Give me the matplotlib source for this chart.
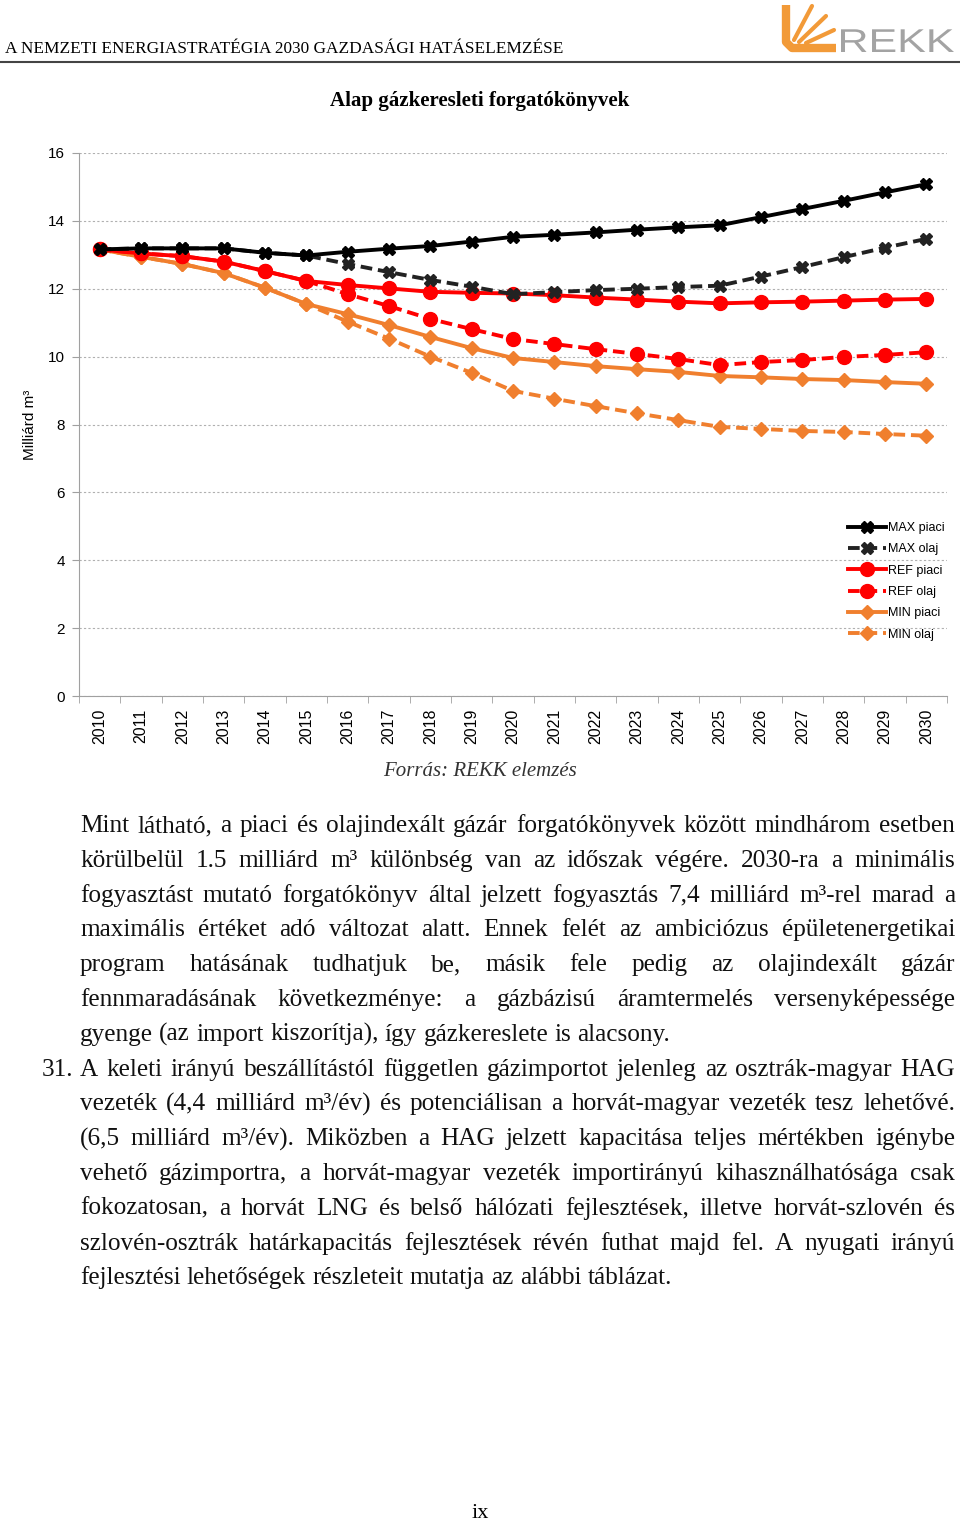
import matplotlib
matplotlib.use("Agg")
import matplotlib.pyplot as plt
from matplotlib.lines import Line2D
from matplotlib.textpath import TextPath
from matplotlib.patches import PathPatch
from matplotlib.font_manager import FontProperties
from matplotlib.transforms import Affine2D
import numpy as np

# adatok (Milliárd m3)
years = list(range(2010, 2031))
max_piaci = [13.16, 13.19, 13.19, 13.19, 13.06, 12.98, 13.09, 13.18, 13.26, 13.39, 13.53,
             13.59, 13.66, 13.74, 13.81, 13.87, 14.11, 14.35, 14.59, 14.84, 15.08]
max_olaj = [13.16, 13.19, 13.19, 13.19, 13.06, 12.98, 12.73, 12.49, 12.26, 12.06, 11.84,
            11.90, 11.96, 12.00, 12.05, 12.09, 12.36, 12.64, 12.93, 13.21, 13.47]
ref_piaci = [13.16, 13.04, 12.96, 12.80, 12.52, 12.23, 12.11, 12.01, 11.91, 11.88, 11.86,
             11.81, 11.74, 11.68, 11.62, 11.57, 11.60, 11.62, 11.65, 11.68, 11.70]
ref_olaj = [13.16, 13.04, 12.96, 12.80, 12.52, 12.23, 11.84, 11.49, 11.11, 10.81, 10.52,
            10.37, 10.22, 10.08, 9.93, 9.75, 9.84, 9.90, 9.99, 10.05, 10.13]
min_piaci = [13.16, 12.94, 12.73, 12.46, 12.03, 11.55, 11.25, 10.93, 10.58, 10.25, 9.96,
             9.84, 9.72, 9.63, 9.55, 9.43, 9.39, 9.34, 9.31, 9.25, 9.20]
min_olaj = [13.16, 12.94, 12.73, 12.46, 12.03, 11.55, 11.03, 10.53, 10.00, 9.52, 8.99,
            8.76, 8.54, 8.33, 8.13, 7.93, 7.87, 7.81, 7.78, 7.72, 7.67]
labels = ["MAX piaci", "MAX olaj", "REF piaci", "REF olaj", "MIN piaci", "MIN olaj"]

W, H = 960, 1521
def fx(x): return x / W
def fy(y): return 1 - y / H

fig = plt.figure(figsize=(9.6, 15.21), dpi=100)
SANS = "Liberation Sans"
SERIF = "Liberation Serif"

# fejléc
fig.text(fx(5), fy(49), "A NEMZETI ENERGIASTRATÉGIA 2030 GAZDASÁGI HATÁSELEMZÉSE",
         family=SERIF, size=12.4, va="center", ha="left")
fig.add_artist(Line2D([0, 1], [fy(62), fy(62)], color="#444444", lw=1.5))

# logó
orange = "#f29a38"
fig.add_artist(Line2D([fx(786), fx(786), fx(792), fx(836)], [fy(5), fy(42), fy(48), fy(48)],
                      color=orange, lw=6, solid_capstyle="butt", solid_joinstyle="round"))
for (xa, ya, xb, yb) in [(794, 40, 812, 6), (799, 42, 826, 16), (806, 43, 834, 30)]:
    fig.add_artist(Line2D([fx(xa), fx(xb)], [fy(ya), fy(yb)], color=orange, lw=3,
                          solid_capstyle="round"))
tp = TextPath((0, 0), "REKK", size=33, prop=FontProperties(family=SANS))
tb = tp.get_extents()
sx = 113 / tb.width
logo_tr = Affine2D().translate(-tb.x0, 0).scale(sx, 1.0).translate(841, H - 52)
fig.add_artist(PathPatch(tp, transform=logo_tr, color="#a3a3a3", lw=0))

# cím
fig.text(0.5, fy(101), "Alap gázkeresleti forgatókönyvek", family=SERIF, weight="bold",
         size=15, ha="center", va="center")

# diagram
ax = fig.add_axes([fx(79), fy(696), fx(947) - fx(79), fy(153) - fy(696)])
x = np.arange(len(years))
series = [max_piaci, max_olaj, ref_piaci, ref_olaj, min_piaci, min_olaj]
colors = ["#000000", "#222222", "#ff0000", "#ff0000", "#f07f2e", "#f07f2e"]
markers = ["X", "X", "o", "o", "D", "D"]
msizes = [9, 9, 10, 10, 7, 7]
for i, (vals, lab) in enumerate(zip(series, labels)):
    ls = "-" if i % 2 == 0 else (0, (3, 1.5))
    ax.plot(x, vals, color=colors[i], lw=2.8, linestyle=ls, marker=markers[i],
            markersize=msizes[i], label=lab, zorder=10 - i)

ax.set_xlim(-0.5, len(years) - 0.5)
ax.set_ylim(0, 16)
ax.set_yticks(range(0, 17, 2))
ax.set_yticklabels([str(v) for v in range(0, 17, 2)], family=SANS, size=11)
ax.set_xticks(x)
ax.set_xticklabels([str(y) for y in years], rotation=90, family=SANS, size=11.5)
ax.set_xticks(np.arange(len(years) + 1) - 0.5, minor=True)
ax.tick_params(axis="x", which="major", length=0, pad=9)
ax.tick_params(axis="x", which="minor", length=5, color="#a0a0a0")
ax.tick_params(axis="y", length=5, color="#a0a0a0", pad=5)
ax.yaxis.grid(True, color="#b0b0b0", linestyle=(0, (2, 2)), lw=0.8)
ax.set_axisbelow(True)
for s in ["top", "right"]:
    ax.spines[s].set_visible(False)
for s in ["left", "bottom"]:
    ax.spines[s].set_color("#a0a0a0")
ax.set_ylabel("Milliárd m³", family=SANS, size=11, labelpad=8)

ax.legend(loc="center left", bbox_to_anchor=(0.886, 0.211), frameon=False,
          prop={"family": SANS, "size": 9}, handlelength=3.0, handletextpad=0.2,
          labelspacing=0.75, borderpad=0, borderaxespad=0)

fig.text(0.5, fy(772), "Forrás: REKK elemzés", family=SERIF, style="italic",
         size=15, ha="center", va="center", color="#333333")

# szöveg, sorkizárt
BODY = 18.2
renderer = fig.canvas.get_renderer()

def put_line(text, base, x0=80, x1=955, justify=True):
    words = text.split()
    arts = [fig.text(0, fy(base), w, family=SERIF, size=BODY, va="baseline", color="#111111")
            for w in words]
    widths = [a.get_window_extent(renderer).width for a in arts]
    gap = 0.25 * BODY * 100 / 72
    if justify and len(words) > 1:
        gap = (x1 - x0 - sum(widths)) / (len(words) - 1)
    pos = x0
    for a, w in zip(arts, widths):
        a.set_x(fx(pos))
        pos += w + gap

lines = [
    ("Mint látható, a piaci és olajindexált gázár forgatókönyvek között mindhárom esetben", True),
    ("körülbelül 1.5 milliárd m³ különbség van az időszak végére. 2030-ra a minimális", True),
    ("fogyasztást mutató forgatókönyv által jelzett fogyasztás 7,4 milliárd m³-rel marad a", True),
    ("maximális értéket adó változat alatt. Ennek felét az ambiciózus épületenergetikai", True),
    ("program hatásának tudhatjuk be, másik fele pedig az olajindexált gázár", True),
    ("fennmaradásának következménye: a gázbázisú áramtermelés versenyképessége", True),
    ("gyenge (az import kiszorítja), így gázkereslete is alacsony.", False),
    ("A keleti irányú beszállítástól független gázimportot jelenleg az osztrák-magyar HAG", True),
    ("vezeték (4,4 milliárd m³/év) és potenciálisan a horvát-magyar vezeték tesz lehetővé.", True),
    ("(6,5 milliárd m³/év). Miközben a HAG jelzett kapacitása teljes mértékben igénybe", True),
    ("vehető gázimportra, a horvát-magyar vezeték importirányú kihasználhatósága csak", True),
    ("fokozatosan, a horvát LNG és belső hálózati fejlesztések, illetve horvát-szlovén és", True),
    ("szlovén-osztrák határkapacitás fejlesztések révén futhat majd fel. A nyugati irányú", True),
    ("fejlesztési lehetőségek részleteit mutatja az alábbi táblázat.", False),
]
for i, (txt, just) in enumerate(lines):
    put_line(txt, 832 + 34.8 * i, justify=just)
fig.text(fx(42), fy(832 + 34.8 * 7), "31.", family=SERIF, size=BODY, va="baseline",
         color="#111111")

fig.text(0.5, fy(1513), "ix", family=SERIF, size=16, ha="center", va="center")

fig.savefig("out.png", dpi=100)
